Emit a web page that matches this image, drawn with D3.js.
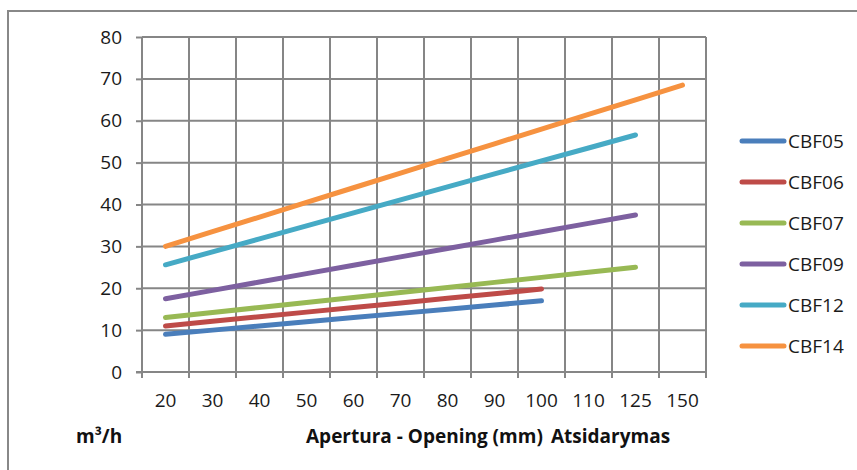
<!DOCTYPE html>
<html>
<head>
<meta charset="utf-8">
<script src="https://cdn.jsdelivr.net/npm/d3@7"></script>
<style>
  body { margin: 0; background: #fff; }
  svg { display: block; }
</style>
</head>
<body>
<div id="chart"></div>
<script>
const openings = ["20", "30", "40", "50", "60", "70", "80", "90", "100", "110", "125", "150"];
const yTicks = [0, 10, 20, 30, 40, 50, 60, 70, 80];

const seriesNames = ["CBF05", "CBF06", "CBF07", "CBF09", "CBF12", "CBF14"];
const cbf05 = [9, 10, 11, 12, 13, 14, 15, 16, 17];
const cbf06 = [11, 12.1, 13.2, 14.3, 15.4, 16.5, 17.6, 18.7, 19.8];
const cbf07 = [13, 14.2, 15.4, 16.6, 17.8, 19, 20.2, 21.4, 22.6, 23.8, 25];
const cbf09 = [17.5, 19.5, 21.5, 23.5, 25.5, 27.5, 29.5, 31.5, 33.5, 35.5, 37.5];
const cbf12 = [25.6, 28.7, 31.8, 34.9, 38, 41.1, 44.2, 47.3, 50.4, 53.5, 56.6];
const cbf14 = [30, 33.5, 37, 40.5, 44, 47.5, 51, 54.5, 58, 61.5, 65, 68.5];
const seriesColors = ["#4a7ebb", "#be4b48", "#98b954", "#7d60a0", "#46aac5", "#f69240"];

const series = [cbf05, cbf06, cbf07, cbf09, cbf12, cbf14].map((vals, i) => ({
  name: seriesNames[i],
  color: seriesColors[i],
  values: vals.map((v, j) => ({ x: openings[j], y: v }))
}));

const W = 857, H = 470;
const plot = { left: 142, right: 706, top: 37, bottom: 372 };
const font = "'Open Sans', sans-serif";
const grid = "#868686";

const svg = d3.select("#chart")
  .append("svg")
  .attr("width", W)
  .attr("height", H)
  .style("font-family", font);

// outer chart frame (runs off the right and bottom edges)
svg.append("rect")
  .attr("x", 8)
  .attr("y", 11)
  .attr("width", 860)
  .attr("height", 470)
  .attr("fill", "none")
  .attr("stroke", "#888")
  .attr("stroke-width", 2);

const x = d3.scaleBand()
  .domain(openings)
  .range([plot.left, plot.right]);

const y = d3.scaleLinear()
  .domain([0, 80])
  .range([plot.bottom, plot.top]);

// horizontal gridlines
svg.append("g")
  .selectAll("line")
  .data(yTicks.slice(1))
  .enter()
  .append("line")
  .attr("x1", plot.left)
  .attr("x2", plot.right)
  .attr("y1", d => y(d))
  .attr("y2", d => y(d))
  .attr("stroke", grid)
  .attr("stroke-width", 2);

// vertical gridlines between categories
const bounds = openings.map(d => x(d)).concat([plot.right]);
svg.append("g")
  .selectAll("line")
  .data(bounds)
  .enter()
  .append("line")
  .attr("x1", d => d)
  .attr("x2", d => d)
  .attr("y1", plot.top)
  .attr("y2", plot.bottom + 6)
  .attr("stroke", grid)
  .attr("stroke-width", 2);

// y axis
const yAxis = svg.append("g")
  .attr("transform", `translate(${plot.left},0)`)
  .call(d3.axisLeft(y).tickValues(yTicks).tickSize(6).tickPadding(14));
yAxis.select(".domain").remove();
yAxis.selectAll("line").attr("stroke", grid).attr("stroke-width", 2);
yAxis.selectAll("text")
  .style("font-family", font)
  .style("font-size", "19px")
  .attr("fill", "#1a1a1a");

// x axis line
svg.append("line")
  .attr("x1", plot.left - 6)
  .attr("x2", plot.right)
  .attr("y1", plot.bottom)
  .attr("y2", plot.bottom)
  .attr("stroke", grid)
  .attr("stroke-width", 2);

const xAxis = svg.append("g")
  .attr("transform", `translate(0,${plot.bottom})`)
  .call(d3.axisBottom(x).tickSize(0).tickPadding(22));
xAxis.select(".domain").remove();
xAxis.selectAll("text")
  .style("font-family", font)
  .style("font-size", "19px")
  .attr("fill", "#1a1a1a");

// series lines
const line = d3.line()
  .x(d => x(d.x) + x.bandwidth() / 2)
  .y(d => y(d.y));

svg.append("g")
  .selectAll("path")
  .data(series)
  .enter()
  .append("path")
  .attr("d", d => line(d.values))
  .attr("fill", "none")
  .attr("stroke", d => d.color)
  .attr("stroke-width", 5)
  .attr("stroke-linecap", "round");

// axis titles
const titles = [
  { text: "m³/h", x: 76 },
  { text: "Apertura - Opening (mm)", x: 306 },
  { text: "Atsidarymas", x: 551 }
];
svg.append("g")
  .selectAll("text")
  .data(titles)
  .enter()
  .append("text")
  .attr("x", d => d.x)
  .attr("y", 443)
  .style("font-size", "19px")
  .style("font-weight", "bold")
  .attr("fill", "#111")
  .text(d => d.text);

// legend
const legend = svg.append("g")
  .attr("transform", "translate(740,141)");

series.forEach((s, i) => {
  const row = legend.append("g")
    .attr("transform", `translate(0,${i * 41})`);

  row.append("line")
    .attr("x1", 2)
    .attr("x2", 44)
    .attr("stroke", s.color)
    .attr("stroke-width", 5)
    .attr("stroke-linecap", "round");

  row.append("text")
    .attr("x", 48)
    .attr("y", 7)
    .style("font-size", "19px")
    .attr("fill", "#1a1a1a")
    .text(s.name);
});
</script>
</body>
</html>
